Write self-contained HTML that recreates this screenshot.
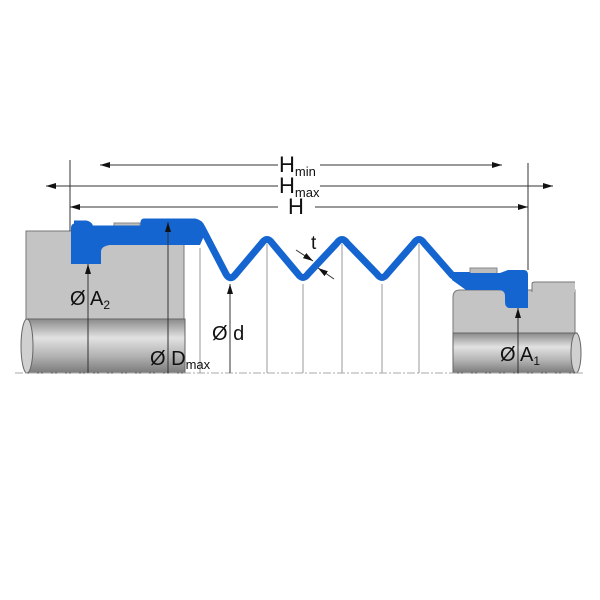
<!DOCTYPE html>
<html><head><meta charset="utf-8"><style>
html,body{margin:0;padding:0;background:#fff}
svg{display:block}
text{font-family:"Liberation Sans",sans-serif;fill:#111}
</style></head><body>
<svg width="600" height="600" viewBox="0 0 600 600" xmlns="http://www.w3.org/2000/svg">
<defs>
<linearGradient id="sh" x1="0" y1="0" x2="0" y2="1">
<stop offset="0" stop-color="#8a8a8a"/><stop offset="0.35" stop-color="#e2e2e2"/><stop offset="0.7" stop-color="#b0b0b0"/><stop offset="1" stop-color="#7a7a7a"/>
</linearGradient>
<marker id="ar" markerWidth="10" markerHeight="6" refX="10" refY="3" orient="auto" markerUnits="userSpaceOnUse"><path d="M0,0 L10,3 L0,6 z" fill="#111"/></marker>
</defs>
<path d="M26,231 H176 Q184,231 184,240 V320 H26 Z" fill="#c4c4c4" stroke="#777" stroke-width="1"/>
<rect x="27" y="319" width="158" height="54" fill="url(#sh)" stroke="#666" stroke-width="1"/>
<ellipse cx="27" cy="346" rx="6" ry="27" fill="#d0d0d0" stroke="#666"/>
<path d="M460,290 H575 V333 H453 V297 Q453,290 460,290 Z" fill="#c4c4c4" stroke="#777"/>
<path d="M532,282 H575 V292 H532 Z" fill="#c4c4c4"/>
<path d="M532,292 V284 Q532,282 535,282 H575" fill="none" stroke="#777"/>
<rect x="453" y="333" width="124" height="40" fill="url(#sh)" stroke="#666"/>
<ellipse cx="576" cy="353" rx="5" ry="20" fill="#d0d0d0" stroke="#666"/>
<line x1="15" y1="373" x2="585" y2="373" stroke="#aaa" stroke-dasharray="8,2,2,2"/>
<g stroke="#999" stroke-width="1">
<line x1="200" y1="248" x2="200" y2="373"/><line x1="267" y1="244" x2="267" y2="373"/>
<line x1="303" y1="284" x2="303" y2="373"/><line x1="342" y1="244" x2="342" y2="373"/>
<line x1="382" y1="284" x2="382" y2="373"/><line x1="419" y1="244" x2="419" y2="373"/>
</g>
<rect x="114" y="223" width="26" height="6" fill="#bdbdbd" stroke="#888"/>
<rect x="470" y="268" width="27" height="6" fill="#bdbdbd" stroke="#888"/>
<path d="M74,224 H86 Q90,225 90,229 H144 V222 H195 Q200,223 202,228 L226,274 Q230,281 235,275 L262,243 Q267,236 272,243 L298,274 Q303,281 308,274 L337,243 Q342,236 347,243 L377,274 Q382,281 387,274 L414,243 Q419,236 424,243 L452,275 Q455,278 462,276" fill="none" stroke="#1565d0" stroke-width="7" stroke-linejoin="round"/>
<path d="M71,228 Q71,223 77,223 H88 L90,229 H144 V222 H196 L204,236 L200,245 H110 Q101,246 101,252 V264 H71 Z" fill="#1565d0"/>
<path d="M452,272 H470 V273 H500 L508,270 H524 Q528,270 528,275 V308 H510 Q505,308 505,302 V296 Q505,290 498,290 H466 L452,280 Z" fill="#1565d0"/>
<g stroke="#333" stroke-width="1" fill="none">
<line x1="70" y1="160" x2="70" y2="231"/>
<line x1="528" y1="163" x2="528" y2="270"/>
<line x1="278" y1="165" x2="100" y2="165" marker-end="url(#ar)"/>
<line x1="320" y1="165" x2="502" y2="165" marker-end="url(#ar)"/>
<line x1="278" y1="186" x2="46" y2="186" marker-end="url(#ar)"/>
<line x1="320" y1="186" x2="553" y2="186" marker-end="url(#ar)"/>
<line x1="278" y1="207" x2="70" y2="207" marker-end="url(#ar)"/>
<line x1="315" y1="207" x2="528" y2="207" marker-end="url(#ar)"/>
<line x1="88" y1="373" x2="88" y2="264" marker-end="url(#ar)"/>
<line x1="168" y1="373" x2="168" y2="222" marker-end="url(#ar)"/>
<line x1="230" y1="373" x2="230" y2="284" marker-end="url(#ar)"/>
<line x1="518" y1="373" x2="518" y2="308" marker-end="url(#ar)"/>
<line x1="296" y1="250" x2="313" y2="261" marker-end="url(#ar)"/>
<line x1="334" y1="279" x2="318" y2="268" marker-end="url(#ar)"/>
</g>
<text x="279" y="172" font-size="22">H<tspan font-size="13" dy="4">min</tspan></text>
<text x="279" y="193" font-size="22">H<tspan font-size="13" dy="4">max</tspan></text>
<text x="288" y="214" font-size="22">H</text>
<text x="311" y="249" font-size="19">t</text>
<text x="70" y="305" font-size="20">Ø A<tspan font-size="12" dy="4">2</tspan></text>
<text x="150" y="365" font-size="20">Ø D<tspan font-size="13" dy="4">max</tspan></text>
<text x="212" y="340" font-size="20">Ø d</text>
<text x="500" y="361" font-size="20">Ø A<tspan font-size="12" dy="4">1</tspan></text>
</svg>
</body></html>
